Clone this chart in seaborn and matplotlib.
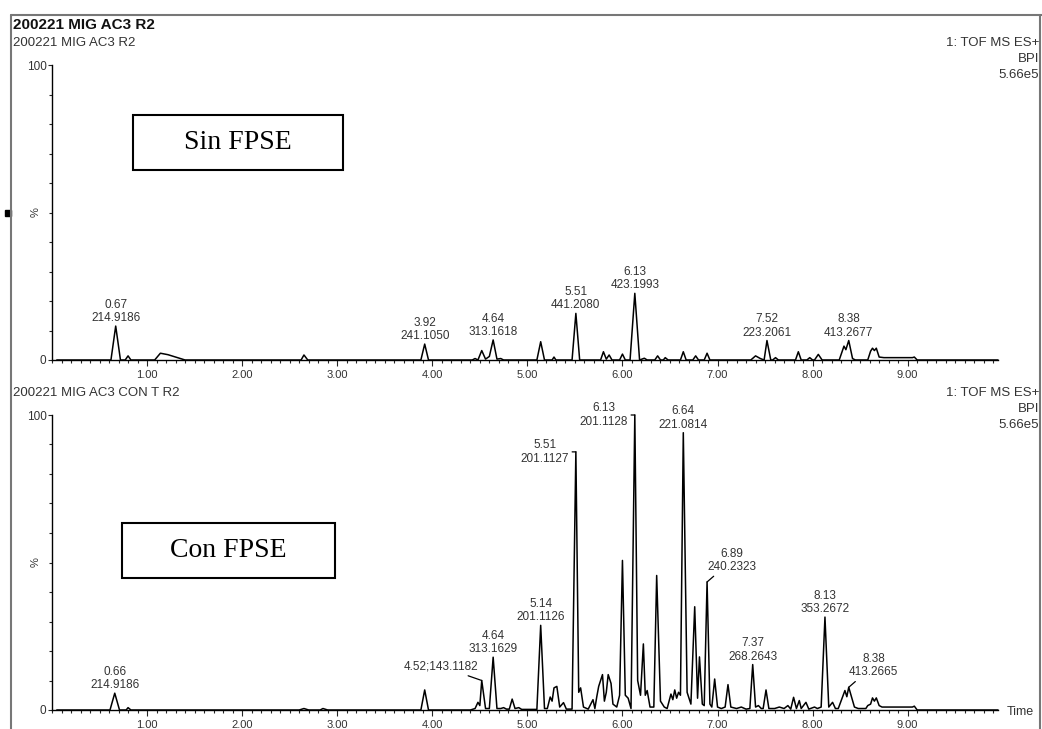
import matplotlib
matplotlib.use("Agg")
import matplotlib.pyplot as plt
import seaborn as sns
import pandas as pd
from matplotlib.ticker import MultipleLocator, FixedLocator
from matplotlib.lines import Line2D
from matplotlib.patches import Rectangle

# chromatogram traces (retention time in min, % of BPI)
top_rt = [0.05, 0.62, 0.67, 0.72, 0.77, 0.80, 0.83, 1.08, 1.14, 1.22, 1.30, 1.40,
          2.62, 2.65, 2.69, 3.88, 3.92, 3.96, 4.42, 4.45, 4.48, 4.52, 4.56, 4.60,
          4.64, 4.68, 4.72, 4.75, 5.10, 5.14, 5.18, 5.26, 5.28, 5.30, 5.47, 5.51,
          5.55, 5.77, 5.80, 5.83, 5.86, 5.89, 5.97, 6.00, 6.03, 6.08, 6.13, 6.18,
          6.23, 6.26, 6.34, 6.37, 6.40, 6.43, 6.45, 6.48, 6.61, 6.64, 6.67, 6.74,
          6.77, 6.80, 6.86, 6.89, 6.92, 7.35, 7.40, 7.45, 7.49, 7.52, 7.56, 7.58,
          7.61, 7.64, 7.82, 7.85, 7.88, 7.94, 7.97, 8.00, 8.02, 8.06, 8.10, 8.28,
          8.33, 8.35, 8.38, 8.42, 8.45, 8.58, 8.61, 8.63, 8.65, 8.67, 8.70, 8.75,
          9.05, 9.07, 9.10, 9.95]
top_pct = [0, 0, 11.5, 0, 0, 1.4, 0, 0, 2.3, 1.8, 1.0, 0,
           0, 1.7, 0, 0, 5.4, 0, 0, 0.5, 0, 3.2, 0.3, 1.2,
           6.8, 0.3, 0.5, 0, 0, 6.2, 0, 0, 1.0, 0, 0, 15.8,
           0, 0, 2.8, 0.3, 1.7, 0, 0, 2.0, 0, 0, 22.6, 0,
           0.6, 0, 0, 1.4, 0, 0, 0.8, 0, 0, 2.8, 0, 0,
           1.4, 0, 0, 2.3, 0, 0, 1.4, 0.5, 0, 6.6, 0, 0,
           0.8, 0, 0, 2.8, 0, 0, 0.8, 0, 0, 1.9, 0, 0,
           4.7, 3.5, 6.6, 0.5, 0, 0, 3.0, 4.0, 3.2, 4.0, 1.0, 0.8,
           0.8, 1.0, 0, 0]

bot_rt = [0.05, 0.61, 0.66, 0.71, 0.78, 0.80, 0.83, 2.60, 2.65, 2.70, 2.82, 2.85,
          2.90, 3.88, 3.92, 3.96, 4.40, 4.45, 4.48, 4.50, 4.52, 4.56, 4.60, 4.64,
          4.68, 4.72, 4.75, 4.78, 4.81, 4.84, 4.87, 4.91, 4.94, 5.10, 5.14, 5.18,
          5.21, 5.24, 5.26, 5.28, 5.31, 5.34, 5.38, 5.41, 5.47, 5.51, 5.54, 5.56,
          5.59, 5.64, 5.69, 5.71, 5.73, 5.75, 5.79, 5.81, 5.83, 5.85, 5.88, 5.90,
          5.94, 5.97, 6.00, 6.03, 6.06, 6.09, 6.13, 6.16, 6.19, 6.22, 6.24, 6.26,
          6.29, 6.33, 6.36, 6.40, 6.44, 6.47, 6.51, 6.53, 6.55, 6.57, 6.59, 6.61,
          6.64, 6.68, 6.72, 6.76, 6.79, 6.81, 6.84, 6.86, 6.89, 6.92, 6.94, 6.97,
          7.00, 7.04, 7.08, 7.11, 7.14, 7.20, 7.25, 7.30, 7.34, 7.37, 7.40, 7.43,
          7.46, 7.48, 7.51, 7.54, 7.60, 7.65, 7.70, 7.74, 7.77, 7.80, 7.83, 7.86,
          7.88, 7.93, 7.96, 8.02, 8.05, 8.09, 8.13, 8.17, 8.21, 8.24, 8.27, 8.31,
          8.34, 8.36, 8.38, 8.41, 8.44, 8.48, 8.56, 8.58, 8.61, 8.63, 8.65, 8.67,
          8.70, 8.73, 9.05, 9.07, 9.10, 9.95]
bot_pct = [0, 0, 5.7, 0, 0, 0.8, 0, 0, 0.5, 0, 0, 0.5,
           0, 0, 6.8, 0, 0, 0.5, 2.6, 1.5, 10.0, 0.5, 0.5, 17.9,
           0.5, 0.5, 0.8, 0.3, 0.3, 3.7, 0.5, 0.8, 0.2, 0.2, 28.7, 0.5,
           0.5, 4.4, 3.0, 7.5, 8.0, 1.0, 2.5, 0.3, 0.3, 87.5, 6.0, 7.5,
           1.0, 0.3, 3.5, 0.5, 4.5, 8.0, 12.0, 3.0, 6.0, 12.0, 9.0, 2.0,
           1.0, 5.0, 50.7, 5.0, 4.0, 0.5, 100, 10.0, 5.0, 22.4, 5.0, 6.6,
           1.0, 1.0, 45.6, 3.0, 1.0, 0.5, 5.4, 3.5, 6.8, 4.0, 6.0, 5.0,
           94, 6.0, 2.0, 35, 4.0, 18, 2.0, 1.5, 43.4, 2.0, 1.0, 10.5,
           1.0, 0.5, 1.0, 8.6, 1.0, 0.5, 1.0, 0.3, 0.5, 15.4, 1.0, 1.5,
           0.5, 0.5, 6.8, 0.5, 0.5, 1.0, 0.5, 1.5, 0.3, 4.3, 0.5, 3.2,
           0.5, 2.6, 0.3, 1.0, 0.5, 1.0, 31.5, 1.0, 2.6, 0.5, 0.5, 4.0,
           6.6, 4.5, 7.7, 4.3, 1.0, 0.5, 0.5, 1.5, 2.0, 4.1, 3.0, 4.1,
           1.5, 1.0, 1.0, 1.3, 0, 0]

# peak labels
top_lab_rt = ["0.67", "3.92", "4.64", "5.51", "6.13", "7.52", "8.38"]
top_lab_mz = ["214.9186", "241.1050", "313.1618", "441.2080", "423.1993",
              "223.2061", "413.2677"]
top_lab_h = [11.5, 5.4, 6.8, 15.8, 22.6, 6.6, 6.6]

bot_lab_rt = ["0.66", "4.52", "4.64", "5.14", "5.51", "6.13", "6.64", "6.89",
              "7.37", "8.13", "8.38"]
bot_lab_mz = ["214.9186", "143.1182", "313.1629", "201.1126", "201.1127",
              "201.1128", "221.0814", "240.2323", "268.2643", "353.2672",
              "413.2665"]
bot_lab_h = [5.7, 10.0, 17.9, 28.7, 87.5, 100, 94, 43.4, 15.4, 31.5, 7.7]
bot_lab_kind = ["above", "inline", "above", "above", "bracket", "bracket",
                "above", "diag", "above", "above", "diag"]

W, H = 1042, 729
sns.set_style("white")
plt.rcParams["font.family"] = ["Liberation Sans", "DejaVu Sans"]
TXT = "#333333"

fig = plt.figure(figsize=(W / 100, H / 100), dpi=100)


def fx(x):
    return x / W


def fy(y):
    return 1 - y / H


def setup_axis(ax):
    ax.set_xlim(0, 9.95)
    ax.set_ylim(0, 100)
    sns.despine(ax=ax, top=True, right=True)
    for s in ("left", "bottom"):
        ax.spines[s].set_color("black")
        ax.spines[s].set_linewidth(1.0)
    ax.xaxis.set_major_locator(FixedLocator([1, 2, 3, 4, 5, 6, 7, 8, 9]))
    ax.xaxis.set_minor_locator(MultipleLocator(0.1))
    ax.set_xticklabels([f"{v:.2f}" for v in range(1, 10)])
    ax.yaxis.set_major_locator(FixedLocator([0, 100]))
    ax.yaxis.set_minor_locator(MultipleLocator(10))
    ax.tick_params(axis="x", which="major", direction="out", length=4, width=0.8,
                   pad=3, labelsize=8, labelcolor=TXT, bottom=True)
    ax.tick_params(axis="x", which="minor", direction="out", length=2.2, width=0.8,
                   bottom=True)
    ax.tick_params(axis="y", which="major", direction="out", length=3, width=0.8,
                   pad=1, labelsize=8.5, labelcolor=TXT, left=True)
    ax.tick_params(axis="y", which="minor", direction="out", length=2.2, width=0.8,
                   left=True)
    ax.set_xlabel("")
    ax.set_ylabel("%", fontsize=8, color=TXT)
    ax.yaxis.set_label_coords(-0.012, 0.5)
    ax.set_facecolor("white")


ax_w = (998 - 52) / W
ax_h = 295 / H
ax_top = fig.add_axes([fx(52), fy(360), ax_w, ax_h])
ax_bot = fig.add_axes([fx(52), fy(710), ax_w, ax_h])

top_df = pd.DataFrame({"rt": top_rt, "pct": top_pct})
bot_df = pd.DataFrame({"rt": bot_rt, "pct": bot_pct})
sns.lineplot(data=top_df, x="rt", y="pct", ax=ax_top, color="black", lw=1.1,
             estimator=None, sort=False)
sns.lineplot(data=bot_df, x="rt", y="pct", ax=ax_bot, color="black", lw=1.1,
             estimator=None, sort=False)
setup_axis(ax_top)
setup_axis(ax_bot)
for a in (ax_top, ax_bot):
    for ln in a.get_lines():
        ln.set_clip_on(False)

lab_kw = dict(fontsize=8.5, color=TXT, linespacing=1.15, multialignment="center")
line_kw = dict(arrowstyle="-", color="black", lw=0.9, shrinkA=0, shrinkB=0)

for rt, mz, h in zip(top_lab_rt, top_lab_mz, top_lab_h):
    ax_top.annotate(f"{rt}\n{mz}", xy=(float(rt), h), xytext=(0, 2),
                    textcoords="offset pixels", ha="center", va="bottom", **lab_kw)

for rt, mz, h, kind in zip(bot_lab_rt, bot_lab_mz, bot_lab_h, bot_lab_kind):
    x = float(rt)
    if kind == "above":
        ax_bot.annotate(f"{rt}\n{mz}", xy=(x, h), xytext=(0, 2),
                        textcoords="offset pixels", ha="center", va="bottom", **lab_kw)
    elif kind == "bracket":
        ax_bot.annotate(f"{rt}\n{mz}", xy=(x, h), xytext=(-7, 0),
                        textcoords="offset pixels", ha="right", va="center",
                        arrowprops=line_kw, **lab_kw)
    elif kind == "inline":
        ax_bot.annotate(f"{rt};{mz}", xy=(x, h), xytext=(-3, 14),
                        textcoords="offset pixels", ha="right", va="center",
                        arrowprops=line_kw, **lab_kw)
    else:
        ax_bot.annotate(f"{rt}\n{mz}", xy=(x, h), xytext=(25, 9),
                        textcoords="offset pixels", ha="center", va="bottom",
                        arrowprops=line_kw, **lab_kw)

# headers
fig.text(fx(13), fy(25), "200221 MIG AC3 R2", fontsize=11, fontweight="bold",
         color="#111111", ha="left", va="center")
fig.text(fx(13), fy(43), "200221 MIG AC3 R2", fontsize=9.5, color=TXT,
         ha="left", va="center")
fig.text(fx(13), fy(393), "200221 MIG AC3 CON T R2", fontsize=9.5, color=TXT,
         ha="left", va="center")
for y0 in (43, 393):
    fig.text(fx(1039), fy(y0), "1: TOF MS ES+", fontsize=9.5, color=TXT,
             ha="right", va="center")
    fig.text(fx(1039), fy(y0 + 16), "BPI", fontsize=9.5, color=TXT,
             ha="right", va="center")
    fig.text(fx(1039), fy(y0 + 32), "5.66e5", fontsize=9.5, color=TXT,
             ha="right", va="center")
fig.text(fx(1007), fy(712), "Time", fontsize=9, color=TXT, ha="left", va="center")

# small marker left of the upper % label
fig.add_artist(Line2D([fx(8)], [fy(213)], marker="s", ms=4, color="black",
                      transform=fig.transFigure))

# sample boxes
for (x0, y0, x1, y1), txt in (((133, 115, 343, 170), "Sin FPSE"),
                              ((122, 523, 335, 578), "Con FPSE")):
    fig.add_artist(Rectangle((fx(x0), fy(y1)), fx(x1 - x0), (y1 - y0) / H,
                             transform=fig.transFigure, fill=True, fc="white",
                             ec="black", lw=1.5))
    fig.text(fx((x0 + x1) / 2), fy((y0 + y1) / 2), txt, fontsize=20,
             family="Liberation Serif", color="black", ha="center", va="center")

# outer frame
frame_kw = dict(color="#777777", lw=1.5, transform=fig.transFigure)
fig.add_artist(Line2D([fx(11), 1], [fy(15), fy(15)], **frame_kw))
fig.add_artist(Line2D([fx(11), fx(11)], [fy(15), 0], **frame_kw))
fig.add_artist(Line2D([fx(1040), fx(1040)], [fy(15), 0], **frame_kw))

fig.savefig("out.png", dpi=100, facecolor="white")
